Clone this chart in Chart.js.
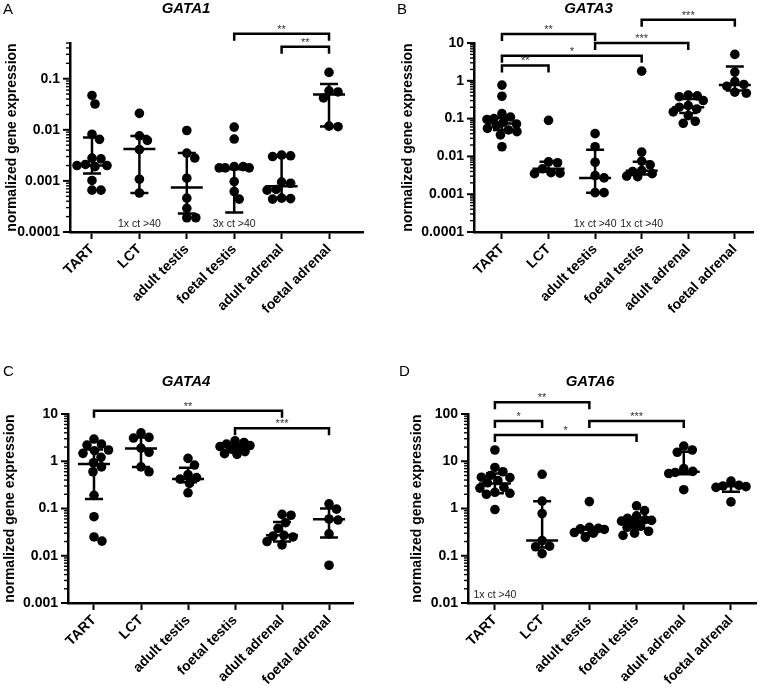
<!DOCTYPE html>
<html><head><meta charset="utf-8">
<script src="https://cdn.jsdelivr.net/npm/chart.js@4.4.0/dist/chart.umd.min.js"></script>
<style>
html,body{margin:0;padding:0;background:#fff;}
#wrap{position:relative;width:762px;height:690px;background:#fff;}
.panel{position:absolute;width:381px;height:345px;}
</style></head><body>
<div id="wrap">
<div class="panel" style="left:0;top:0"><canvas id="cA" width="381" height="345"></canvas></div>
<div class="panel" style="left:381px;top:0"><canvas id="cB" width="381" height="345"></canvas></div>
<div class="panel" style="left:0;top:345px"><canvas id="cC" width="381" height="345"></canvas></div>
<div class="panel" style="left:381px;top:345px"><canvas id="cD" width="381" height="345"></canvas></div>
</div>
<script>
// ---------- DATA ----------
const categories = ['TART', 'LCT', 'adult testis', 'foetal testis', 'adult adrenal', 'foetal adrenal'];
const yAxisTitle = 'normalized gene expression';

// GATA1 (panel A)
const gata1Values = [
  [0.047, 0.032, 0.0082, 0.0065, 0.0028, 0.0027, 0.0021, 0.002, 0.002, 0.0019, 0.00102, 0.00066, 0.00066],
  [0.021, 0.0076, 0.0062, 0.0041, 0.00108, 0.00058],
  [0.0097, 0.0035, 0.0028, 0.00113, 0.00046, 0.00029, 0.00019, 0.00019],
  [0.0113, 0.0066, 0.0019, 0.0019, 0.0018, 0.0018, 0.0018, 0.00097, 0.00062, 0.00044],
  [0.0032, 0.0031, 0.0030, 0.00095, 0.0009, 0.00068, 0.00066, 0.00046, 0.00045, 0.00044],
  [0.133, 0.058, 0.055, 0.042, 0.0118, 0.0115]
];
const gata1Median = [0.002, 0.0042, 0.00074, 0.0017, 0.00079, 0.049];
const gata1Q1 = [0.0014, 0.00058, 0.00023, 0.00024, 0.00047, 0.0116];
const gata1Q3 = [0.0071, 0.0076, 0.0035, 0.0018, 0.003, 0.079];
const gata1YTicks = [0.0001, 0.001, 0.01, 0.1];
const gata1YMax = 0.5;
const gata1Brackets = [
  {from: 3, to: 5, y: 0.76, label: '**'},
  {from: 4, to: 5, y: 0.42, label: '**'}
];
const gata1Notes = [{at: 1, text: '1x ct >40'}, {at: 3, text: '3x ct >40'}];

// GATA3 (panel B)
const gata3Values = [
  [0.77, 0.39, 0.135, 0.11, 0.1, 0.095, 0.08, 0.072, 0.065, 0.055, 0.05, 0.045, 0.037, 0.018],
  [0.09, 0.0072, 0.0068, 0.0047, 0.0037, 0.0036, 0.0035],
  [0.04, 0.018, 0.007, 0.0031, 0.0027, 0.0011, 0.0011],
  [1.8, 0.013, 0.0075, 0.006, 0.0042, 0.004, 0.0035, 0.003, 0.0029],
  [0.42, 0.4, 0.38, 0.3, 0.22, 0.2, 0.18, 0.15, 0.12, 0.085, 0.075],
  [5.0, 1.7, 0.95, 0.8, 0.72, 0.5, 0.47]
];
const gata3Median = [0.074, 0.0047, 0.0027, 0.0042, 0.2, 0.78];
const gata3Q1 = [0.05, 0.0039, 0.0011, 0.0033, 0.14, 0.55];
const gata3Q3 = [0.105, 0.0072, 0.015, 0.0072, 0.33, 2.4];
const gata3YTicks = [0.0001, 0.001, 0.01, 0.1, 1, 10];
const gata3YMax = 10;
const gata3Brackets = [
  {from: 3, to: 5, y: 41, label: '***'},
  {from: 0, to: 2, y: 17.3, label: '**'},
  {from: 2, to: 4, y: 10, label: '***'},
  {from: 0, to: 3, y: 4.6, label: '*'},
  {from: 0, to: 1, y: 2.55, label: '**'}
];
const gata3Notes = [{at: 2, text: '1x ct >40'}, {at: 3, text: '1x ct >40'}];

// GATA4 (panel C)
const gata4Values = [
  [2.95, 2.31, 2.2, 1.73, 1.67, 1.47, 1.21, 0.93, 0.76, 0.6, 0.19, 0.067, 0.025, 0.0204],
  [4.0, 3.2, 3.1, 1.9, 1.55, 0.76, 0.6],
  [1.15, 0.83, 0.52, 0.45, 0.42, 0.34, 0.215],
  [2.7, 2.5, 2.3, 2.15, 2.05, 2.0, 1.8, 1.6, 1.45, 1.4],
  [0.075, 0.072, 0.05, 0.038, 0.027, 0.026, 0.025, 0.02, 0.017],
  [0.125, 0.097, 0.06, 0.057, 0.029, 0.0063]
];
const gata4Median = [0.87, 1.87, 0.42, 2.05, 0.027, 0.059];
const gata4Q1 = [0.158, 0.76, 0.36, 1.6, 0.02, 0.0243];
const gata4Q3 = [1.78, 3.2, 0.73, 2.2, 0.052, 0.1];
const gata4YTicks = [0.001, 0.01, 0.1, 1, 10];
const gata4YMax = 10;
const gata4Brackets = [
  {from: 0, to: 4, y: 11.7, label: '**'},
  {from: 3, to: 5, y: 4.98, label: '***'}
];
const gata4Notes = [];

// GATA6 (panel D)
const gata6Values = [
  [17.3, 7.4, 6.0, 5.0, 4.6, 4.5, 3.9, 3.5, 2.8, 2.7, 2.2, 2.1, 2.0, 0.95],
  [5.3, 1.43, 0.78, 0.21, 0.16, 0.155, 0.111],
  [1.4, 0.4, 0.38, 0.37, 0.36, 0.31, 0.3, 0.245],
  [1.14, 0.9, 0.7, 0.62, 0.58, 0.56, 0.54, 0.5, 0.42, 0.4, 0.33, 0.3, 0.27],
  [21, 17.3, 15.5, 7, 6.1, 5.8, 5.5, 2.5],
  [3.8, 3.1, 3.0, 2.9, 2.8, 1.38]
];
const gata6Median = [3.4, 0.21, 0.36, 0.54, 6.0, 2.95];
const gata6Q1 = [2.1, 0.15, 0.3, 0.38, 5.3, 2.25];
const gata6Q3 = [5.5, 1.43, 0.4, 0.62, 15.9, 3.3];
const gata6YTicks = [0.01, 0.1, 1, 10, 100];
const gata6YMax = 100;
const gata6Brackets = [
  {from: 0, to: 2, y: 177, label: '**'},
  {from: 0, to: 1, y: 71, label: '*'},
  {from: 2, to: 4, y: 71, label: '***'},
  {from: 0, to: 3, y: 35.9, label: '*'}
];
const gata6Notes = [{at: 0, text: '1x ct >40'}];

// ---------- LAYOUT / STYLE ----------
const FONT = "'Liberation Sans', Arial, Helvetica, sans-serif";
const panels = [
  {canvas: 'cA', letter: 'A', title: 'GATA1', values: gata1Values, median: gata1Median, q1: gata1Q1, q3: gata1Q3,
   yTicks: gata1YTicks, yMax: gata1YMax, brackets: gata1Brackets, notes: gata1Notes,
   lay: {yWidth: 70, top: 43, right: 18, xHeight: 113, xMin: -0.464, xMax: 5.717, titleX: 186, titleY: 9, letterX: 3, letterY: 10, yTitlePad: 3.3}},
  {canvas: 'cB', letter: 'B', title: 'GATA3', values: gata3Values, median: gata3Median, q1: gata3Q1, q3: gata3Q3,
   yTicks: gata3YTicks, yMax: gata3YMax, brackets: gata3Brackets, notes: gata3Notes,
   lay: {yWidth: 93, top: 43, right: 9, xHeight: 113, xMin: -0.6, xMax: 5.39, titleX: 207.5, titleY: 9, letterX: 16, letterY: 10, yTitlePad: 19}},
  {canvas: 'cC', letter: 'C', title: 'GATA4', values: gata4Values, median: gata4Median, q1: gata4Q1, q3: gata4Q3,
   yTicks: gata4YTicks, yMax: gata4YMax, brackets: gata4Brackets, notes: gata4Notes,
   lay: {yWidth: 68, top: 69, right: 28, xHeight: 87, xMin: -0.553, xMax: 5.51, titleX: 186, titleY: 37, letterX: 3, letterY: 27, yTitlePad: 1.6}},
  {canvas: 'cD', letter: 'D', title: 'GATA6', values: gata6Values, median: gata6Median, q1: gata6Q1, q3: gata6Q3,
   yTicks: gata6YTicks, yMax: gata6YMax, brackets: gata6Brackets, notes: gata6Notes,
   lay: {yWidth: 87, top: 69, right: 6, xHeight: 87, xMin: -0.57, xMax: 5.53, titleX: 209, titleY: 37, letterX: 18, letterY: 27, yTitlePad: 28}}
];

function isDecade(v) { const l = Math.log10(v); return Math.abs(l - Math.round(l)) < 1e-6; }
function fmtTick(v) { return String(Number(v.toPrecision(1))); }

const decorPlugin = {
  id: 'decor',
  afterDatasetsUpdate(chart) {
    // spread overlapping dots sideways (scatter dot plot layout), limited width
    const meta = chart.getDatasetMeta(0);
    const data = chart.data.datasets[0].data;
    const xs = chart.scales.x;
    const groups = {};
    meta.data.forEach((el, i) => { const k = data[i].x; (groups[k] = groups[k] || []).push(el); });
    const minD = 9, maxOff = 15;
    Object.keys(groups).forEach(k => {
      const cx = xs.getPixelForValue(+k);
      const placed = [];
      groups[k].slice().sort((a, b) => a.y - b.y).forEach(el => {
        let chosen = null, bestC = 0, bestD = -1;
        for (let s = 0; s <= maxOff * 2 && chosen === null; s++) {
          const cands = s === 0 ? [0] : [s * 0.5, -s * 0.5];
          for (const c of cands) {
            let dmin = Infinity;
            placed.forEach(p => { const d = Math.hypot(p.x - (cx + c), p.y - el.y); if (d < dmin) dmin = d; });
            if (dmin >= minD) { chosen = c; break; }
            if (dmin > bestD + 0.01) { bestD = dmin; bestC = c; }
          }
        }
        el.x = cx + (chosen !== null ? chosen : bestC);
        placed.push({x: el.x, y: el.y});
      });
    });
  },
  afterDatasetsDraw(chart) {
    const p = chart.options.plugins.decor.panel;
    const ctx = chart.ctx, xs = chart.scales.x, ys = chart.scales.y;
    ctx.save();
    ctx.strokeStyle = '#000'; ctx.lineWidth = 2.5; ctx.lineCap = 'butt';
    p.median.forEach((m, i) => {
      const x = xs.getPixelForValue(i);
      const ym = ys.getPixelForValue(m), y1 = ys.getPixelForValue(p.q1[i]), y3 = ys.getPixelForValue(p.q3[i]);
      ctx.beginPath();
      ctx.moveTo(x, y1); ctx.lineTo(x, y3);
      ctx.moveTo(x - 16, ym); ctx.lineTo(x + 16, ym);
      ctx.moveTo(x - 9, y1); ctx.lineTo(x + 9, y1);
      ctx.moveTo(x - 9, y3); ctx.lineTo(x + 9, y3);
      ctx.stroke();
    });
    ctx.restore();
  },
  afterDraw(chart) {
    const p = chart.options.plugins.decor.panel;
    const ctx = chart.ctx, xs = chart.scales.x, ys = chart.scales.y, ca = chart.chartArea;
    ctx.save();
    // y tick marks (major long, minor short)
    ctx.strokeStyle = '#000';
    ys.ticks.forEach(t => {
      const y = ys.getPixelForValue(t.value);
      const maj = isDecade(t.value);
      ctx.lineWidth = maj ? 2 : 1.4;
      ctx.beginPath(); ctx.moveTo(ca.left - (maj ? 7 : 4), y); ctx.lineTo(ca.left, y); ctx.stroke();
    });
    // significance brackets
    ctx.lineWidth = 2.5; ctx.lineJoin = 'miter';
    ctx.fillStyle = '#333'; ctx.font = '11px ' + FONT; ctx.textAlign = 'center'; ctx.textBaseline = 'alphabetic';
    p.brackets.forEach(b => {
      const x1 = xs.getPixelForValue(b.from), x2 = xs.getPixelForValue(b.to), y = ys.getPixelForValue(b.y);
      ctx.beginPath(); ctx.moveTo(x1, y + 7); ctx.lineTo(x1, y); ctx.lineTo(x2, y); ctx.lineTo(x2, y + 7); ctx.stroke();
      ctx.fillText(b.label, (x1 + x2) / 2, y - 1);
    });
    // notes
    ctx.fillStyle = '#222'; ctx.font = '10.5px ' + FONT; ctx.textBaseline = 'middle';
    p.notes.forEach(n => { ctx.fillText(n.text, xs.getPixelForValue(n.at), ca.bottom - 8); });
    // title and panel letter
    ctx.fillStyle = '#000';
    ctx.font = 'italic bold 15px ' + FONT; ctx.textAlign = 'center';
    ctx.fillText(p.title, p.lay.titleX, p.lay.titleY);
    ctx.font = '15px ' + FONT; ctx.textAlign = 'left';
    ctx.fillText(p.letter, p.lay.letterX, p.lay.letterY);
    ctx.restore();
  }
};

panels.forEach(p => {
  const pts = [];
  p.values.forEach((arr, i) => arr.forEach(v => pts.push({x: i, y: v})));
  const L = p.lay;
  new Chart(document.getElementById(p.canvas), {
    type: 'scatter',
    data: {datasets: [{data: pts, backgroundColor: '#000', borderWidth: 0, pointRadius: 4.8, clip: false}]},
    options: {
      responsive: false, animation: false, devicePixelRatio: 1, events: [],
      layout: {padding: {left: 0, top: L.top, right: L.right, bottom: 0}},
      plugins: {legend: {display: false}, tooltip: {enabled: false}, decor: {panel: p}},
      scales: {
        x: {
          type: 'linear', min: L.xMin, max: L.xMax,
          afterBuildTicks: s => { s.ticks = categories.map((c, i) => ({value: i})); },
          afterFit: s => { s.height = L.xHeight; s.paddingLeft = 0; s.paddingRight = 0; },
          grid: {display: true, drawOnChartArea: false, tickLength: 7, tickWidth: 2, tickColor: '#000'},
          border: {display: true, color: '#000', width: 2.5},
          ticks: {autoSkip: false, maxRotation: 45, minRotation: 45, padding: 2, color: '#000',
                  font: {family: FONT, size: 14, weight: 'bold'},
                  callback: v => categories[v]}
        },
        y: {
          type: 'logarithmic', min: p.yTicks[0], max: p.yMax,
          afterBuildTicks: s => {
            const t = [];
            const e0 = Math.round(Math.log10(p.yTicks[0]));
            const e1 = Math.ceil(Math.log10(p.yMax));
            for (let e = e0; e <= e1; e++) for (let k = 1; k <= 9; k++) {
              const v = Number((k * Math.pow(10, e)).toPrecision(2));
              if (v >= p.yTicks[0] * 0.999 && v <= p.yMax * 1.001) t.push({value: v});
            }
            s.ticks = t;
          },
          afterFit: s => { s.width = L.yWidth; s.paddingTop = 0; s.paddingBottom = 0; },
          grid: {display: false, drawTicks: true, tickLength: 6},
          border: {display: true, color: '#000', width: 2.5},
          ticks: {autoSkip: false, padding: 4, color: '#000', font: {family: FONT, size: 14, weight: 'bold'},
                  callback: v => (p.yTicks.some(t => Math.abs(t - v) / t < 1e-6) ? fmtTick(v) : '')},
          title: {display: true, text: yAxisTitle, color: '#000', font: {family: FONT, size: 14, weight: 'bold'},
                  padding: {top: L.yTitlePad, bottom: 0}}
        }
      }
    },
    plugins: [decorPlugin]
  });
});
</script>
</body></html>
